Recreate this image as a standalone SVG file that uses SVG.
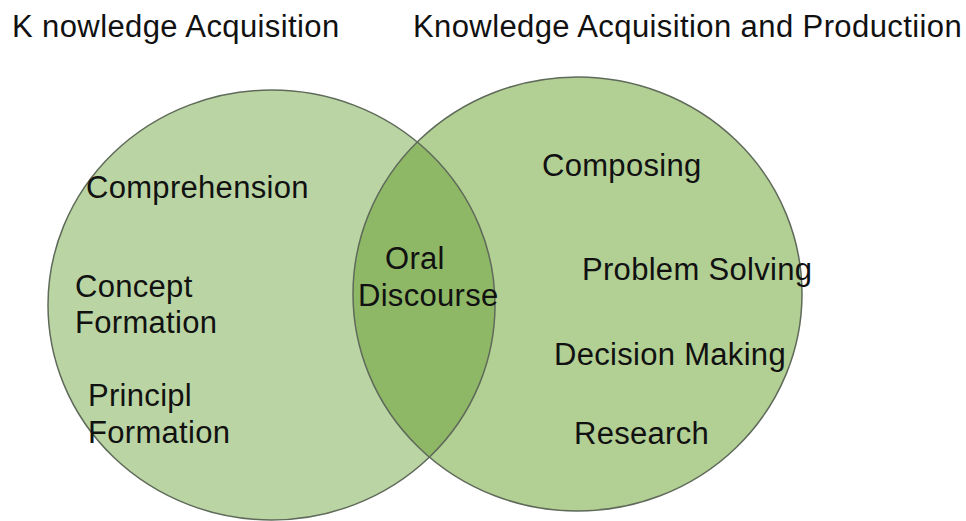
<svg xmlns="http://www.w3.org/2000/svg" width="966" height="521" viewBox="0 0 966 521">
<style>
text{font-family:"Liberation Sans",Arial,Helvetica,sans-serif;font-size:31px;fill:#111;letter-spacing:0.3px;}
.title{letter-spacing:0.4px;}
.ring{fill:none;stroke:#5f6a5a;stroke-width:1.5;}
</style>
<defs>
<clipPath id="clipR"><ellipse cx="577.5" cy="294" rx="224.5" ry="217"/></clipPath>
</defs>
<rect width="966" height="521" fill="#ffffff"/>
<g id="left-set">
<ellipse cx="271.5" cy="305" rx="223.5" ry="215" fill="#bad5a3"/>
</g>
<g id="right-set">
<ellipse cx="577.5" cy="294" rx="224.5" ry="217" fill="#b2cf94"/>
</g>
<g id="overlap">
<ellipse cx="271.5" cy="305" rx="223.5" ry="215" fill="#8fb866" clip-path="url(#clipR)"/>
</g>
<g id="outlines">
<ellipse class="ring" cx="271.5" cy="305" rx="223.5" ry="215"/>
<ellipse class="ring" cx="577.5" cy="294" rx="224.5" ry="217"/>
</g>
<g id="titles">
<text class="title" x="12" y="37">K nowledge Acquisition</text>
<text class="title" x="413" y="37">Knowledge Acquisition and Productiion</text>
</g>
<g id="left-labels">
<text x="86" y="198">Comprehension</text>
<text x="75" y="297">Concept</text>
<text x="75" y="333">Formation</text>
<text x="88" y="406">Principl</text>
<text x="88" y="443">Formation</text>
</g>
<g id="overlap-labels">
<text x="385" y="269">Oral</text>
<text x="358" y="306">Discourse</text>
</g>
<g id="right-labels">
<text x="542" y="176">Composing</text>
<text x="582" y="280">Problem Solving</text>
<text x="554" y="365">Decision Making</text>
<text x="574" y="444">Research</text>
</g>
</svg>
